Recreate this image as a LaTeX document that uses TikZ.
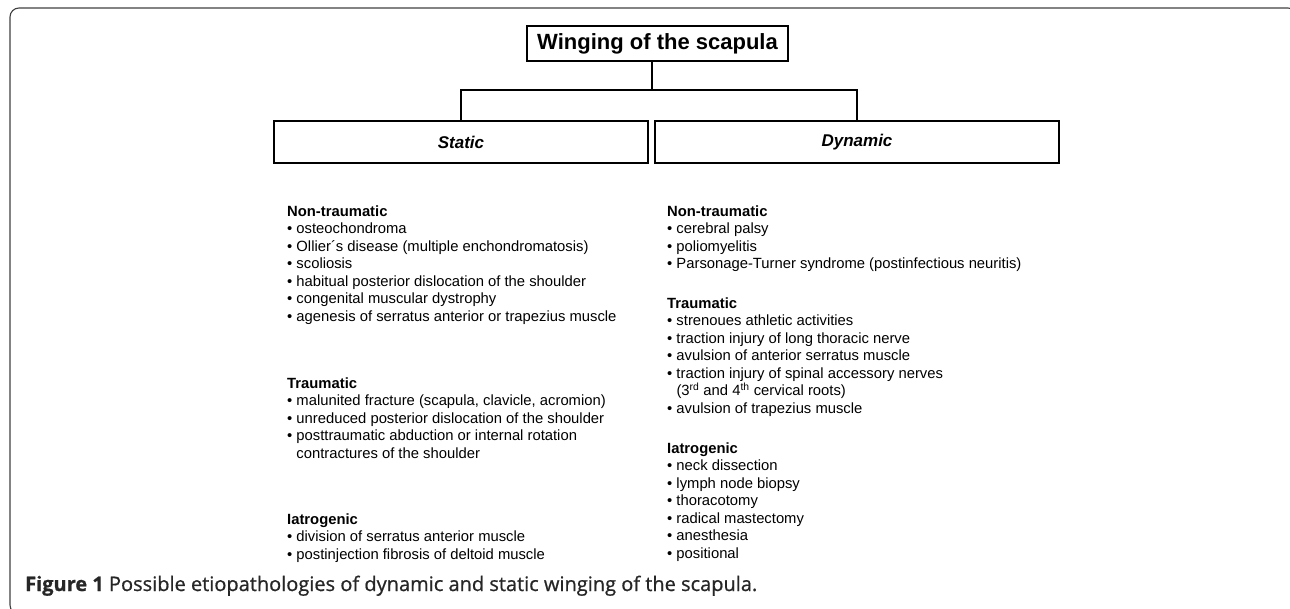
\documentclass[tikz,border=0pt]{standalone}
\usepackage{fontspec}
\setmainfont{Liberation Sans}
\newfontfamily\capfont{Open Sans}[FakeBold=0.8]
\usetikzlibrary{positioning}
\newcommand{\hd}[1]{\textbf{#1}}
\newcommand{\itm}[1]{•\ #1}
\newcommand{\cont}[1]{\phantom{•\ }#1}

\begin{document}
\begin{tikzpicture}[x=1pt, y=-1pt,
      frame/.style={draw=black!75, line width=1.1pt, rounded corners=9pt},
      titlebox/.style={draw, line width=1.8pt, minimum width=261, minimum height=35, inner sep=0pt, font=\bfseries\fontsize{22}{26}\selectfont},
      catbox/.style={draw, line width=1.8pt, minimum height=42, inner sep=0pt, font=\bfseries\itshape\fontsize{17}{20}\selectfont},
      grp/.style={align=left, anchor=north west, inner sep=0pt, font=\fontsize{14.8}{17.5}\selectfont},
      link/.style={line width=1.6pt},
      capt/.style={anchor=base west, inner sep=0pt, text=black!85, font=\capfont\fontsize{20}{24}\selectfont}]
    \useasboundingbox (0,0) rectangle (1290,608);
    \draw[frame] (10,8) rectangle (1297,614);
    % tree
    \node[titlebox] (title) at (657.5,43.5) {Winging of the scapula};
    \node[catbox, minimum width=374] (static) at (461,142) {Static};
    \node[catbox, minimum width=404] (dynamic) at (857,142) {Dynamic};
    \coordinate (split) at (652,90);
    \draw[link] (title.south -| split) -- (split);
    \draw[link] (static.north) |- (split) -| (dynamic.north);
    % static causes
    \node[grp] (stnon) at (287,205.5) {\hd{Non-traumatic}\\
      \itm{osteochondroma}\\
      \itm{Ollier´s disease (multiple enchondromatosis)}\\
      \itm{scoliosis}\\
      \itm{habitual posterior dislocation of the shoulder}\\
      \itm{congenital muscular dystrophy}\\
      \itm{agenesis of serratus anterior or trapezius muscle}};
    \node[grp] (sttrau) at (287,377.5) {\hd{Traumatic}\\
      \itm{malunited fracture (scapula, clavicle, acromion)}\\
      \itm{unreduced posterior dislocation of the shoulder}\\
      \itm{posttraumatic abduction or internal rotation}\\
      \cont{contractures of the shoulder}};
    \node[grp] (stiat) at (287,513.5) {\hd{Iatrogenic}\\
      \itm{division of serratus anterior muscle}\\
      \itm{postinjection fibrosis of deltoid muscle}};
    % dynamic causes
    \node[grp] (dynon) at (667,205.5) {\hd{Non-traumatic}\\
      \itm{cerebral palsy}\\
      \itm{poliomyelitis}\\
      \itm{Parsonage-Turner syndrome (postinfectious neuritis)}};
    \node[grp] (dytrau) at (667,297.5) {\hd{Traumatic}\\
      \itm{strenoues athletic activities}\\
      \itm{traction injury of long thoracic nerve}\\
      \itm{avulsion of anterior serratus muscle}\\
      \itm{traction injury of spinal accessory nerves}\\
      \cont{(3\textsuperscript{rd} and 4\textsuperscript{th} cervical roots)}\\
      \itm{avulsion of trapezius muscle}};
    \node[grp] (dyiat) at (667,442.5) {\hd{Iatrogenic}\\
      \itm{neck dissection}\\
      \itm{lymph node biopsy}\\
      \itm{thoracotomy}\\
      \itm{radical mastectomy}\\
      \itm{anesthesia}\\
      \itm{positional}};
    % caption
    \node[capt] (caption) at (25,591) {\textbf{Figure 1} Possible etiopathologies of dynamic and static winging of the scapula.};
  \end{tikzpicture}
\end{document}
